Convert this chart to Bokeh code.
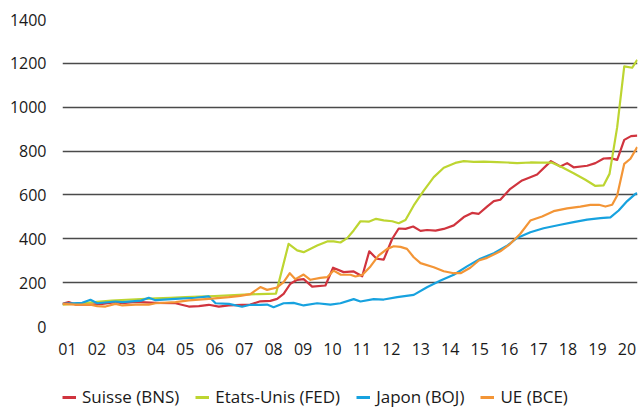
from bokeh.plotting import figure
from bokeh.layouts import column
from bokeh.models import Range1d, FixedTicker, Legend, LegendItem
from bokeh.embed import file_html
from bokeh.resources import INLINE

# ---- data (index, start = 100) ----
years = list(range(2001, 2021))
year_labels = ["%02d" % (y % 100) for y in years]
y_ticks = [0, 200, 400, 600, 800, 1000, 1200, 1400]

bns_t = [2000.83, 2001.04, 2001.27, 2001.78, 2002.18, 2002.63, 2002.86, 2003.31, 2003.99, 2004.67,
         2005.12, 2005.46, 2005.80, 2006.14, 2006.48, 2006.93, 2007.21, 2007.55, 2007.89, 2008.12,
         2008.34, 2008.57, 2008.80, 2009.02, 2009.31, 2009.76, 2010.02, 2010.38, 2010.72, 2011.01,
         2011.25, 2011.50, 2011.74, 2012.03, 2012.25, 2012.48, 2012.74, 2012.99, 2013.21, 2013.50,
         2013.78, 2014.12, 2014.46, 2014.74, 2014.97, 2015.25, 2015.48, 2015.70, 2016.04, 2016.44,
         2016.72, 2016.95, 2017.42, 2017.74, 2017.97, 2018.19, 2018.65, 2018.93, 2019.21, 2019.44,
         2019.67, 2019.91, 2020.14, 2020.35]
bns_v = [103, 111, 100, 100, 103, 111, 106, 112, 108, 106,
         91, 93, 99, 91, 96, 99, 100, 115, 117, 126,
         149, 195, 213, 216, 182, 187, 268, 248, 251, 229,
         343, 309, 305, 400, 447, 445, 456, 436, 440, 437,
         445, 461, 499, 518, 514, 547, 572, 578, 628, 666,
         681, 693, 754, 730, 745, 726, 733, 745, 766, 768,
         760, 851, 868, 870]

fed_t = [2000.83, 2001.5, 2002.0, 2002.5, 2003.0, 2003.5, 2004.0, 2004.5, 2005.0, 2005.5,
         2006.0, 2006.5, 2007.0, 2007.5, 2008.08, 2008.51, 2008.80, 2009.02, 2009.48, 2009.82,
         2010.04, 2010.27, 2010.50, 2010.72, 2010.95, 2011.23, 2011.48, 2011.74, 2012.03, 2012.25,
         2012.48, 2012.76, 2013.10, 2013.44, 2013.78, 2014.17, 2014.46, 2014.80, 2015.14, 2015.59,
         2015.93, 2016.27, 2016.72, 2017.06, 2017.46, 2017.80, 2018.19, 2018.59, 2018.93, 2019.21,
         2019.41, 2019.67, 2019.91, 2020.18, 2020.35]
fed_v = [100, 106, 112, 118, 122, 125, 128, 131, 134, 136,
         139, 142, 145, 148, 150, 377, 347, 339, 369, 388,
         388, 383, 403, 438, 480, 478, 491, 484, 480, 471,
         486, 552, 620, 681, 724, 746, 754, 751, 752, 750,
         748, 745, 748, 747, 747, 726, 699, 669, 641, 644,
         696, 909, 1186, 1180, 1216]

boj_t = [2000.83, 2001.5, 2001.78, 2002.01, 2002.63, 2002.86, 2003.5, 2003.76, 2003.99, 2004.67,
         2005.35, 2005.80, 2006.03, 2006.48, 2006.93, 2007.21, 2007.55, 2007.78, 2008.00, 2008.34,
         2008.68, 2009.02, 2009.48, 2009.93, 2010.27, 2010.72, 2010.95, 2011.40, 2011.74, 2012.20,
         2012.76, 2013.21, 2013.67, 2014.12, 2014.57, 2015.02, 2015.48, 2015.93, 2016.27, 2016.72,
         2017.17, 2017.74, 2018.19, 2018.65, 2019.10, 2019.44, 2019.72, 2020.01, 2020.29, 2020.35]
boj_v = [103, 108, 122, 106, 114, 111, 118, 131, 120, 126,
         131, 137, 106, 103, 90, 99, 99, 100, 88, 106,
         108, 96, 106, 100, 106, 125, 114, 125, 123, 134,
         144, 179, 210, 236, 274, 309, 334, 368, 404, 430,
         448, 464, 476, 487, 494, 498, 529, 572, 605, 608]

bce_t = [2000.83, 2001.27, 2001.78, 2002.01, 2002.29, 2002.63, 2002.86, 2003.31, 2003.76, 2003.99,
         2004.67, 2005.12, 2005.80, 2006.48, 2006.87, 2007.21, 2007.55, 2007.78, 2008.12, 2008.34,
         2008.55, 2008.74, 2009.02, 2009.25, 2009.59, 2009.82, 2010.04, 2010.27, 2010.61, 2010.78,
         2011.01, 2011.29, 2011.57, 2011.86, 2012.08, 2012.31, 2012.53, 2012.76, 2012.99, 2013.44,
         2013.78, 2014.12, 2014.35, 2014.68, 2014.97, 2015.25, 2015.70, 2016.04, 2016.38, 2016.72,
         2017.12, 2017.51, 2017.97, 2018.42, 2018.76, 2019.05, 2019.27, 2019.50, 2019.67, 2019.91,
         2020.12, 2020.35]
bce_v = [103, 100, 100, 93, 91, 103, 96, 100, 100, 106,
         111, 119, 126, 134, 140, 148, 180, 167, 178, 202,
         243, 216, 237, 213, 222, 225, 255, 237, 236, 228,
         235, 274, 324, 354, 366, 363, 354, 316, 289, 270,
         252, 243, 243, 268, 301, 313, 343, 377, 423, 483,
         502, 526, 539, 547, 555, 555, 547, 555, 597, 742,
         765, 818]

series = [
    ("Suisse (BNS)", bns_t, bns_v, "#D0343E"),
    ("Etats-Unis (FED)", fed_t, fed_v, "#BDD531"),
    ("Japon (BOJ)", boj_t, boj_v, "#17A2DF"),
    ("UE (BCE)", bce_t, bce_v, "#F39536"),
]

FONT = "Open Sans"
LW = 2.2

# ---- main chart ----
p = figure(output_backend="svg", toolbar_location=None,
           frame_width=575, frame_height=307,
           x_range=Range1d(2000.83, 2020.36), y_range=Range1d(0, 1400),
           min_border_left=62, min_border_right=3, min_border_top=19, min_border_bottom=40)
p.outline_line_color = None

p.xgrid.visible = False
p.ygrid.ticker = FixedTicker(ticks=y_ticks)
p.ygrid.grid_line_color = "#4a4a4a"
p.ygrid.grid_line_width = 1.4

p.yaxis.ticker = FixedTicker(ticks=y_ticks)
p.xaxis.ticker = FixedTicker(ticks=years)
p.xaxis.major_label_overrides = {y: l for y, l in zip(years, year_labels)}
for ax in (p.xaxis[0], p.yaxis[0]):
    ax.axis_line_color = None
    ax.major_tick_line_color = None
    ax.minor_tick_line_color = None
    ax.major_label_text_font = FONT
    ax.major_label_text_font_size = "16px"
    ax.major_label_text_color = "#1a1a1a"
p.yaxis.major_label_standoff = 10
p.xaxis.major_label_standoff = 10

for name, t, v, c in series:
    p.line(t, v, line_color=c, line_width=LW, line_join="round")

# ---- legend strip: same series, renderers hidden, only their legend keys show ----
lg = figure(output_backend="svg", toolbar_location=None, width=640, height=44,
            x_axis_type=None, y_axis_type=None,
            x_range=Range1d(2000.83, 2020.36), y_range=Range1d(0, 1400),
            min_border=0, min_border_left=0, min_border_right=0,
            min_border_top=0, min_border_bottom=0)
lg.outline_line_color = None
lg.grid.visible = False
items = []
for name, t, v, c in series:
    r = lg.line(t, v, line_color=c, line_width=LW + 0.8, visible=False)
    items.append(LegendItem(label=name, renderers=[r]))

legend = Legend(items=items, orientation="horizontal", location=(0, 2),
                margin=0, padding=0, spacing=16, glyph_width=14, glyph_height=16,
                label_height=16, label_standoff=6,
                label_text_font=FONT, label_text_font_size="17px", label_text_color="#1a1a1a",
                background_fill_alpha=0, border_line_alpha=0)
lg.add_layout(legend, "center")

layout = column(p, lg, spacing=0)
open("out.html", "w").write(file_html(layout, INLINE))
